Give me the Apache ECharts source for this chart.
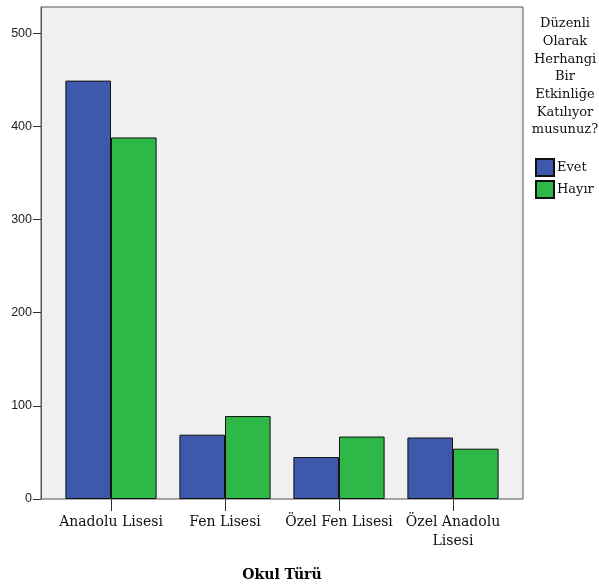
<!DOCTYPE html>
<html>
<head>
<meta charset="utf-8">
<script src="https://cdn.jsdelivr.net/npm/echarts@6/dist/echarts.min.js"></script>
<style>html,body{margin:0;padding:0;background:#fff}#c{width:599px;height:586px}</style>
</head>
<body>
<div id="c"></div>
<script>
const categories = ['Anadolu Lisesi', 'Fen Lisesi', 'Özel Fen Lisesi', 'Özel Anadolu\nLisesi'];
const evet = [449, 69, 45, 66];
const hayir = [388, 89, 67, 54];
const yTicks = [0, 100, 200, 300, 400, 500];
const seriesNames = ['Evet', 'Hayır'];
const legendTitle = 'Düzenli\nOlarak\nHerhangi\nBir\nEtkinliğe\nKatılıyor\nmusunuz?';
const xTitle = 'Okul Türü';

const serif = '"DejaVu Serif", "Liberation Serif", serif';
const sans = '"Liberation Sans", Arial, sans-serif';
const chart = echarts.init(document.getElementById('c'), null, {renderer: 'canvas'});
chart.setOption({
  animation: false,
  backgroundColor: '#ffffff',
  grid: [
    {left: 41, top: 7, width: 482, height: 492, outerBoundsMode: 'none', containLabel: false,
     show: true, backgroundColor: '#f0f0f0', borderColor: '#555', borderWidth: 1},
    {left: 54, top: 7, width: 456, height: 492, outerBoundsMode: 'none', containLabel: false}
  ],
  xAxis: [
    {gridIndex: 0, type: 'value', min: 0, max: 1, show: true,
     axisLine: {show: false}, axisTick: {show: false}, axisLabel: {show: false}, splitLine: {show: false},
     name: xTitle, nameLocation: 'middle', nameGap: 69,
     nameTextStyle: {fontFamily: serif, fontSize: 14, fontWeight: 'bold', color: '#000'}},
    {gridIndex: 1, type: 'category', data: categories, boundaryGap: true,
     axisLine: {show: false},
     axisTick: {show: true, alignWithLabel: true, length: 12, lineStyle: {color: '#333', width: 1}},
     axisLabel: {fontFamily: serif, fontSize: 14, color: '#111', margin: 14, lineHeight: 19, interval: 0}}
  ],
  yAxis: [
    {gridIndex: 0, type: 'value', min: 0, max: 528, interval: 100,
     axisLine: {show: true, lineStyle: {color: '#555', width: 1}},
     axisTick: {show: true, length: 8, customValues: yTicks, lineStyle: {color: '#333'}},
     axisLabel: {fontFamily: sans, fontSize: 12.5, color: '#222', margin: 9, customValues: yTicks},
     splitLine: {show: false}},
    {gridIndex: 1, type: 'value', min: 0, max: 528, show: false, splitLine: {show: false}}
  ],
  legend: {
    orient: 'vertical', left: 535, top: 158, padding: 0, itemWidth: 18, itemHeight: 17, itemGap: 3,
    icon: 'rect',
    textStyle: {fontFamily: serif, fontSize: 13, lineHeight: 17, color: '#111', padding: [0, 0, 0, -2]},
    data: seriesNames
  },
  graphic: [
    {type: 'text', x: 565, y: 15,
     style: {text: legendTitle, fontFamily: serif, fontSize: 13, lineHeight: 17.7, fill: '#111', align: 'center', verticalAlign: 'top'}}
  ],
  series: [
    {name: seriesNames[0], type: 'bar', xAxisIndex: 1, yAxisIndex: 1, data: evet,
     barGap: '0%', barCategoryGap: '20%',
     itemStyle: {color: '#3e58ac', borderColor: '#111', borderWidth: 1}},
    {name: seriesNames[1], type: 'bar', xAxisIndex: 1, yAxisIndex: 1, data: hayir,
     barGap: '0%', barCategoryGap: '20%',
     itemStyle: {color: '#2eb848', borderColor: '#111', borderWidth: 1}}
  ]
});
</script>
</body>
</html>
